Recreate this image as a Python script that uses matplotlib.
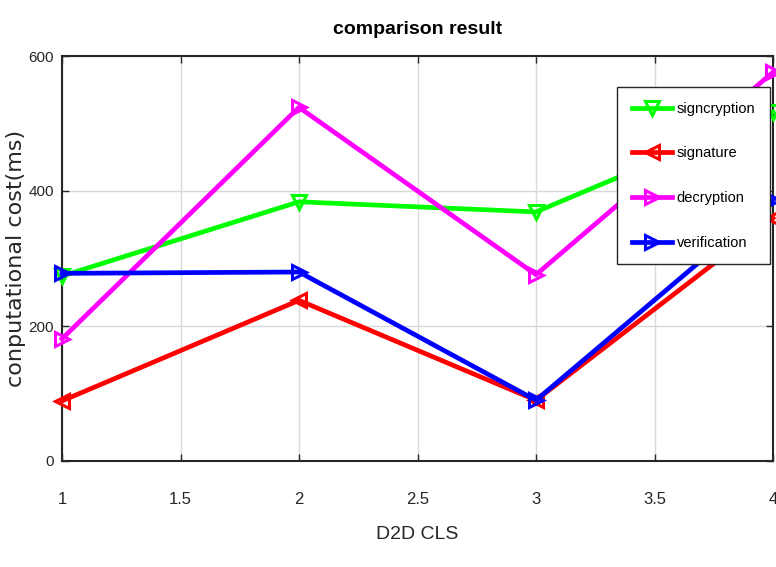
import numpy as np
import matplotlib
matplotlib.use('Agg')
import matplotlib.pyplot as plt

# D2D CLS comparison values (ms)
x = [1, 2, 3, 4]
signcryption = [274, 384, 369, 517]
signature = [89, 238, 90, 360]
decryption = [181, 524, 276, 576]
verification = [278, 280, 90, 387]

xticks = [1, 1.5, 2, 2.5, 3, 3.5, 4]
yticks = [0, 200, 400, 600]

narrow = ['Liberation Sans Narrow', 'Liberation Sans', 'DejaVu Sans']

fig = plt.figure(figsize=(7.76, 5.67), dpi=100)
ax = fig.add_axes([62 / 776, 106 / 567, 711 / 776, 405 / 567])

lw = 3.4
ms = 10
mew = 2.2
ax.plot(x, signcryption, color='#00ff00', lw=lw, marker='v', ms=ms, mew=mew,
        mfc='none', label='signcryption', clip_on=False, zorder=3)
ax.plot(x, signature, color='#ff0000', lw=lw, marker='<', ms=ms, mew=mew,
        mfc='none', label='signature', clip_on=False, zorder=3)
ax.plot(x, decryption, color='#ff00ff', lw=lw, marker='>', ms=ms, mew=mew,
        mfc='none', label='decryption', clip_on=False, zorder=3)
ax.plot(x, verification, color='#0000ff', lw=lw, marker='>', ms=ms, mew=mew,
        mfc='none', label='verification', clip_on=False, zorder=3)

ax.set_xlim(1, 4)
ax.set_ylim(0, 600)
ax.set_xticks(xticks)
ax.set_xticklabels(['1', '1.5', '2', '2.5', '3', '3.5', '4'], family=narrow, fontsize=12)
ax.set_yticks(yticks)
ax.set_yticklabels([str(v) for v in yticks], family=narrow, fontsize=11)
ax.tick_params(direction='in', length=5, width=1, top=True, right=True,
               colors='#262626', labelcolor='#262626')
ax.tick_params(axis='x', pad=22)
ax.tick_params(axis='y', pad=6)
ax.grid(True, color='#d9d9d9', lw=1)
ax.set_axisbelow(True)
for s in ax.spines.values():
    s.set_color('#262626')
    s.set_linewidth(1.5)

ax.set_title('comparison result', family=narrow, fontsize=14, fontweight='bold', pad=16)
ax.set_xlabel('D2D CLS', family=narrow, fontsize=14, color='#262626', labelpad=14)
ax.set_ylabel('conputational cost(ms)', fontsize=16, color='#262626')
ax.yaxis.set_label_coords(-0.05, 0.5)

leg = ax.legend(loc='upper right', bbox_to_anchor=(0.9958, 0.923), borderaxespad=0,
                prop={'family': narrow, 'size': 10.5},
                handlelength=2.8, handletextpad=0.3, labelspacing=2.1, borderpad=1.0,
                fancybox=False, framealpha=1, edgecolor='#262626')
leg.get_frame().set_linewidth(1)

fig.savefig('out.png', dpi=100)
